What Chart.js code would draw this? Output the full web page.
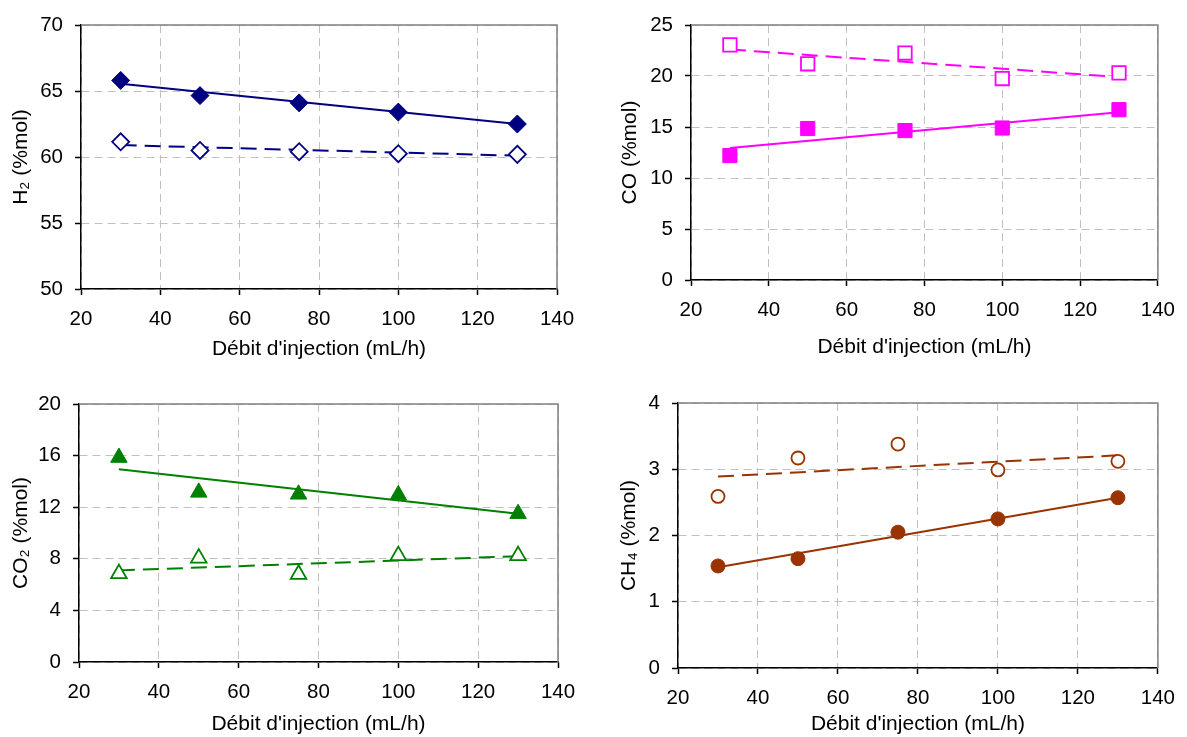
<!DOCTYPE html>
<html lang="fr">
<head>
  <meta charset="UTF-8">
  <title>Composition du gaz selon le débit d'injection</title>
  <style>
    body {
      margin: 0;
      background: #fff;
      width: 1187px;
      height: 737px;
      overflow: hidden;
      position: relative;
    }
    canvas {
      position: absolute;
    }
  </style>
</head>
<body>
  <canvas id="grapheH2" width="590" height="370" style="left:0;top:0"></canvas>
  <canvas id="grapheCO" width="597" height="370" style="left:590px;top:0"></canvas>
  <canvas id="grapheCO2" width="590" height="367" style="left:0;top:370px"></canvas>
  <canvas id="grapheCH4" width="597" height="367" style="left:590px;top:370px"></canvas>

  <script src="https://cdn.jsdelivr.net/npm/chart.js"></script>
  <script>
    // débits d'injection (mL/h)
    const debit = [30, 50, 75, 100, 130];
    const debitTendance = [30, 130];

    // H2 (%mol)
    const h2Plein = [65.8, 64.65, 64.1, 63.4, 62.5];
    const h2Vide = [61.15, 60.5, 60.4, 60.25, 60.2];
    const h2PleinTendance = [65.55, 62.5];
    const h2VideTendance = [60.9, 60.1];

    // CO (%mol)
    const coPlein = [12.2, 14.85, 14.65, 14.9, 16.7];
    const coVide = [23.05, 21.2, 22.25, 19.75, 20.3];
    const coPleinTendance = [12.95, 16.45];
    const coVideTendance = [22.6, 19.9];

    // CO2 (%mol)
    const co2Plein = [15.85, 13.15, 13.0, 12.95, 11.5];
    const co2Vide = [6.85, 8.05, 6.8, 8.25, 8.25];
    const co2PleinTendance = [14.95, 11.5];
    const co2VideTendance = [7.1, 8.2];

    // CH4 (%mol)
    const ch4Plein = [1.54, 1.65, 2.05, 2.25, 2.57];
    const ch4Vide = [2.59, 3.17, 3.38, 2.99, 3.12];
    const ch4PleinTendance = [1.52, 2.57];
    const ch4VideTendance = [2.89, 3.21];

    const police = 'Arial, "Liberation Sans", sans-serif';

    // cadre gris en haut et à droite de la zone de tracé
    const cadre = {
      id: 'cadre',
      beforeDatasetsDraw(chart) {
        const ctx = chart.ctx;
        const a = chart.chartArea;
        ctx.save();
        ctx.strokeStyle = '#808080';
        ctx.lineWidth = 1.5;
        ctx.beginPath();
        ctx.moveTo(a.left, a.top);
        ctx.lineTo(a.right, a.top);
        ctx.lineTo(a.right, a.bottom);
        ctx.stroke();
        ctx.restore();
      }
    };

    function points(xs, ys) {
      return xs.map((x, i) => ({ x: x, y: ys[i] }));
    }

    function creerGraphe(id, zone, axeY, couleur, forme, rayon, plein, vide, pleinTend, videTend) {
      const ctx = document.getElementById(id).getContext('2d');
      return new Chart(ctx, {
        type: 'scatter',
        data: {
          datasets: [
            {
              label: 'tendance plein',
              data: points(debitTendance, pleinTend),
              showLine: true,
              borderColor: couleur,
              borderWidth: 2,
              pointRadius: 0,
              order: 2
            },
            {
              label: 'tendance vide',
              data: points(debitTendance, videTend),
              showLine: true,
              borderColor: couleur,
              borderWidth: 2,
              borderDash: [16, 8],
              pointRadius: 0,
              order: 2
            },
            {
              label: 'plein',
              data: points(debit, plein),
              pointStyle: forme,
              pointRadius: rayon,
              backgroundColor: couleur,
              borderColor: couleur,
              borderWidth: 1,
              order: 1
            },
            {
              label: 'vide',
              data: points(debit, vide),
              pointStyle: forme,
              pointRadius: rayon - 0.5,
              backgroundColor: '#ffffff',
              borderColor: couleur,
              borderWidth: 1.8,
              order: 1
            }
          ]
        },
        options: {
          responsive: false,
          animation: false,
          layout: {
            padding: { top: zone.haut, right: zone.droite, left: 0, bottom: 0 }
          },
          plugins: {
            legend: { display: false },
            tooltip: { enabled: false }
          },
          scales: {
            x: {
              type: 'linear',
              min: 20,
              max: 140,
              afterFit(scale) { scale.height = zone.basAxe; },
              ticks: {
                stepSize: 20,
                padding: 12,
                color: '#000',
                font: { family: police, size: 20.5 }
              },
              grid: {
                color: '#c0c0c0',
                lineWidth: 1,
                tickLength: 6,
                tickColor: '#000',
                tickWidth: 1.5,
                tickBorderDash: []
              },
              border: { color: '#000', width: 1.5, dash: [8, 5] },
              title: {
                display: true,
                text: "Débit d'injection (mL/h)",
                color: '#000',
                font: { family: police, size: 21 },
                padding: { top: 0, bottom: zone.titreX }
              }
            },
            y: {
              min: axeY.min,
              max: axeY.max,
              afterFit(scale) { scale.width = zone.gauche; },
              ticks: {
                stepSize: axeY.pas,
                padding: 12,
                color: '#000',
                font: { family: police, size: 20.5 }
              },
              grid: {
                color: '#c0c0c0',
                lineWidth: 1,
                tickLength: 6,
                tickColor: '#000',
                tickWidth: 1.5,
                tickBorderDash: []
              },
              border: { color: '#000', width: 1.5, dash: [8, 5] },
              title: {
                display: true,
                text: axeY.titre,
                color: '#000',
                font: { family: police, size: 21 },
                padding: { top: zone.titreY, bottom: 0 }
              }
            }
          }
        },
        plugins: [cadre]
      });
    }

    creerGraphe('grapheH2',
      { gauche: 81, haut: 25, droite: 33, basAxe: 81, titreX: 8, titreY: 9 },
      { min: 50, max: 70, pas: 5, titre: 'H\u2082 (%mol)' },
      '#000080', 'rectRot', 9, h2Plein, h2Vide, h2PleinTendance, h2VideTendance);

    creerGraphe('grapheCO',
      { gauche: 101, haut: 25, droite: 21, basAxe: 90, titreX: 10, titreY: 28 },
      { min: 0, max: 25, pas: 5, titre: 'CO (%mol)' },
      '#ff00ff', 'rect', 10, coPlein, coVide, coPleinTendance, coVideTendance);

    creerGraphe('grapheCO2',
      { gauche: 79, haut: 34, droite: 32, basAxe: 75, titreX: 0, titreY: 9 },
      { min: 0, max: 20, pas: 4, titre: 'CO\u2082 (%mol)' },
      '#008000', 'triangle', 9.5, co2Plein, co2Vide, co2PleinTendance, co2VideTendance);

    creerGraphe('grapheCH4',
      { gauche: 88, haut: 33, droite: 25, basAxe: 69, titreX: 0, titreY: 27 },
      { min: 0, max: 4, pas: 1, titre: 'CH\u2084 (%mol)' },
      '#993300', 'circle', 7, ch4Plein, ch4Vide, ch4PleinTendance, ch4VideTendance);
  </script>
</body>
</html>
